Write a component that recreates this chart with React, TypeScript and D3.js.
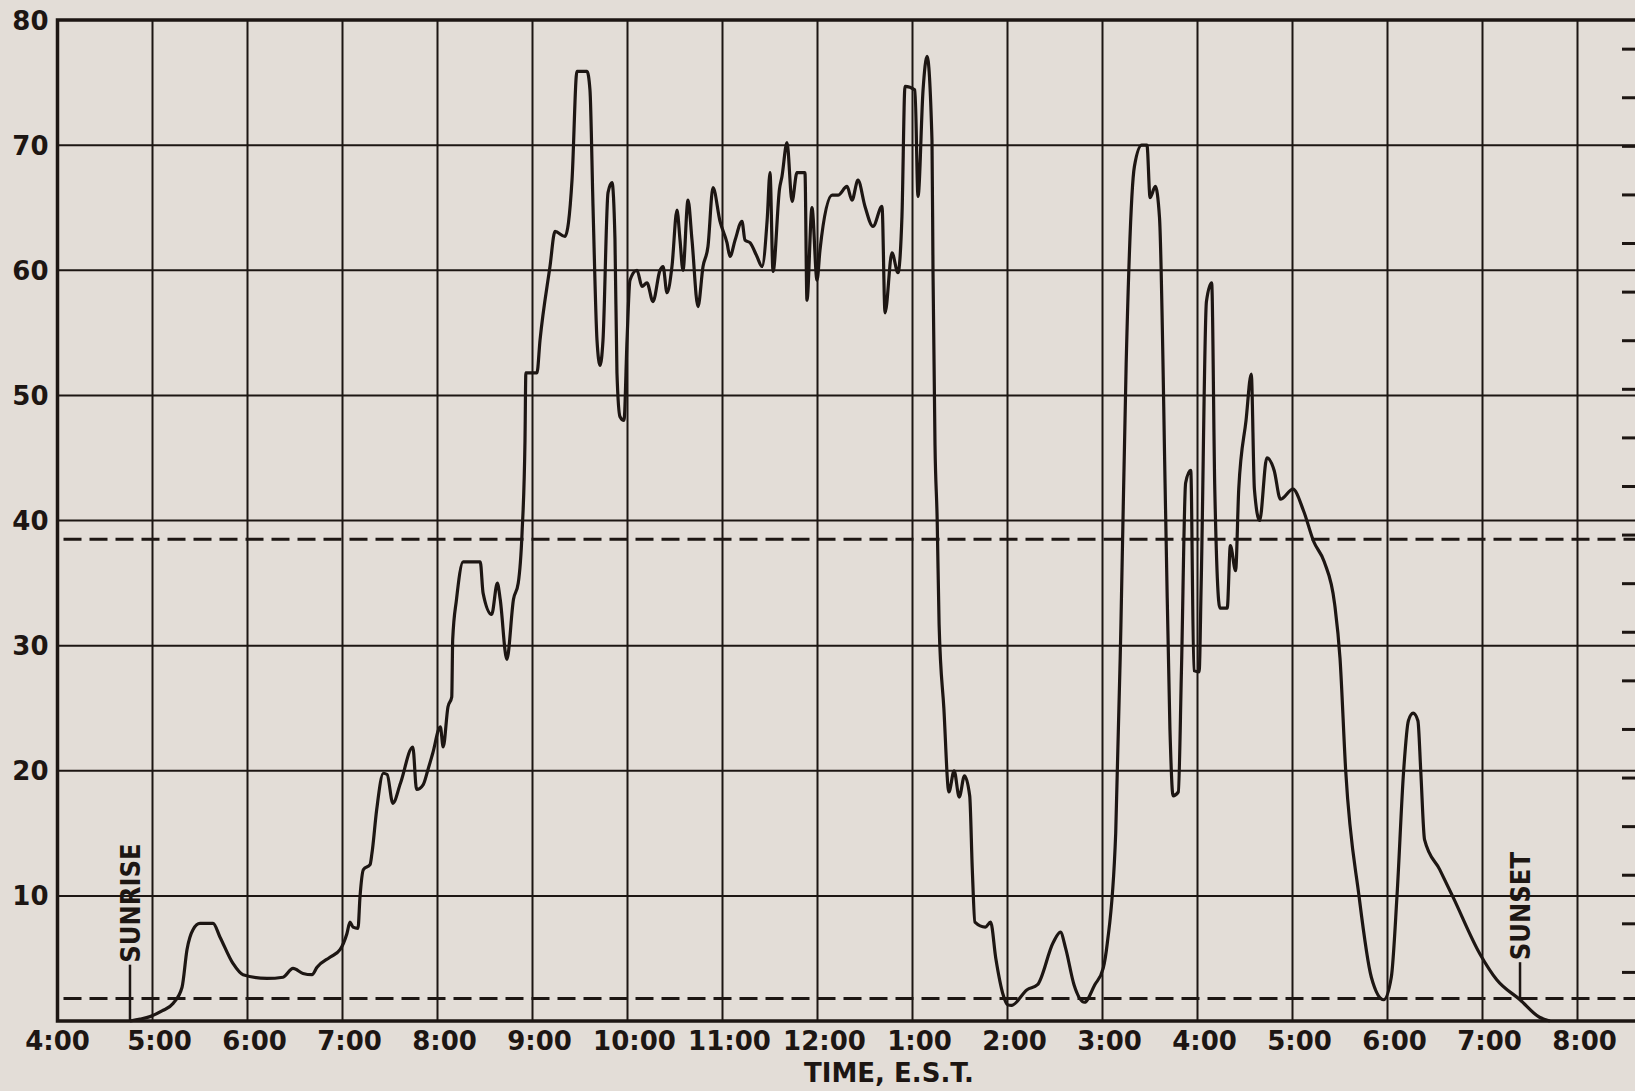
import React, { useRef, useEffect } from 'react';
import * as d3 from 'd3';

// hour of day (4 = 4:00 a.m., 20 = 8:00 p.m.), recorder reading
const trace: [number, number][] = [
    [4.763, 0], [4.87, 0.15], [4.974, 0.35], [5.1, 0.8], [5.216, 1.4], [5.311, 2.7], [5.363, 5.7],
    [5.426, 7.3], [5.5, 7.8], [5.637, 7.8], [5.711, 6.7], [5.847, 4.6], [5.953, 3.7], [6.205, 3.4],
    [6.374, 3.5], [6.479, 4.2], [6.584, 3.8], [6.679, 3.7], [6.732, 4.3], [6.868, 5.1], [6.974, 5.7],
    [7.047, 7.0], [7.079, 7.9], [7.111, 7.5], [7.163, 7.4], [7.184, 9.9], [7.22, 12.1], [7.29, 12.5],
    [7.31, 13.4], [7.36, 16.9], [7.43, 19.8], [7.47, 19.7], [7.53, 17.4], [7.61, 19.0], [7.74, 21.9],
    [7.78, 18.5], [7.85, 18.9], [7.9, 20.1], [7.95, 21.4], [8.03, 23.5], [8.06, 21.9], [8.11, 25.1],
    [8.15, 25.9], [8.16, 30.5], [8.2, 33.7], [8.27, 36.7], [8.45, 36.7], [8.48, 34.2], [8.57, 32.5],
    [8.63, 35.0], [8.66, 33.7], [8.73, 28.9], [8.8, 33.7], [8.85, 35.0], [8.89, 39.0], [8.921, 46.4],
    [8.93, 51.8], [9.047, 51.8], [9.079, 54.4], [9.184, 60.3], [9.237, 63.1], [9.342, 62.7],
    [9.416, 67.2], [9.468, 75.9], [9.574, 75.9], [9.605, 74.4], [9.637, 65.1], [9.679, 54.4],
    [9.711, 52.4], [9.742, 54.4], [9.795, 66.2], [9.837, 67.0], [9.868, 62.5], [9.889, 51.8],
    [9.921, 48.3], [9.963, 48.0], [9.995, 54.4], [10.026, 59.2], [10.1, 60.0], [10.153, 58.7],
    [10.205, 59.0], [10.268, 57.5], [10.342, 60.0], [10.374, 60.3], [10.416, 58.2], [10.468, 60.3],
    [10.521, 64.8], [10.553, 62.4], [10.584, 60.0], [10.637, 65.6], [10.679, 62.4], [10.742, 57.1],
    [10.795, 60.3], [10.847, 61.9], [10.9, 66.6], [10.974, 63.9], [11.047, 62.2], [11.079, 61.1],
    [11.132, 62.4], [11.205, 63.9], [11.237, 62.4], [11.289, 62.2], [11.363, 61.1], [11.416, 60.3],
    [11.47, 64.0], [11.5, 67.8], [11.532, 59.9], [11.6, 66.5], [11.626, 67.5], [11.679, 70.2],
    [11.732, 65.5], [11.784, 67.8], [11.868, 67.8], [11.889, 57.6], [11.942, 65.0], [11.995, 59.2],
    [12.026, 61.6], [12.153, 66.0], [12.216, 66.0], [12.311, 66.7], [12.363, 65.6], [12.426, 67.2],
    [12.5, 65.1], [12.584, 63.5], [12.679, 65.1], [12.711, 56.6], [12.784, 61.4], [12.847, 59.8],
    [12.889, 64.3], [12.921, 74.7], [13.026, 74.4], [13.058, 65.9], [13.111, 74.4], [13.153, 77.1],
    [13.205, 70.4], [13.216, 59.8], [13.237, 46.0], [13.26, 40.0], [13.28, 31.7], [13.33, 25.0],
    [13.383, 18.3], [13.438, 20.0], [13.492, 17.9], [13.547, 19.6], [13.602, 18.0], [13.63, 12.0],
    [13.657, 7.9], [13.767, 7.5], [13.822, 7.9], [13.877, 5.0], [13.954, 2.1], [14.0, 1.3],
    [14.042, 1.25], [14.206, 2.5], [14.316, 2.9], [14.48, 6.25], [14.557, 7.1], [14.612, 5.8],
    [14.7, 2.9], [14.81, 1.5], [14.919, 2.9], [15.007, 4.2], [15.051, 6.25], [15.139, 15.0],
    [15.194, 31.7], [15.249, 52.5], [15.336, 68.3], [15.413, 70.0], [15.468, 70.0], [15.501, 65.8],
    [15.556, 66.7], [15.6, 64.2], [15.666, 40.0], [15.71, 23.3], [15.743, 18.0], [15.798, 18.3],
    [15.831, 28.0], [15.875, 43.0], [15.929, 44.0], [15.962, 28.0], [16.017, 27.9], [16.039, 35.0],
    [16.094, 57.5], [16.149, 59.0], [16.182, 42.5], [16.236, 33.0], [16.313, 33.0], [16.346, 38.0],
    [16.401, 36.0], [16.434, 42.5], [16.511, 48.0], [16.566, 51.7], [16.599, 42.5], [16.654, 40.0],
    [16.73, 45.0], [16.807, 44.0], [16.873, 41.7], [17.005, 42.5], [17.115, 40.8], [17.224, 38.3],
    [17.334, 36.7], [17.444, 33.3], [17.5, 29.0], [17.56, 20.0], [17.7, 10.0], [17.83, 3.5],
    [17.96, 1.7], [18.04, 3.5], [18.1, 10.0], [18.17, 20.0], [18.22, 24.0], [18.27, 24.6],
    [18.32, 24.0], [18.35, 20.0], [18.39, 14.5], [18.55, 12.1], [18.69, 9.9], [18.97, 5.4],
    [19.15, 3.3], [19.395, 1.7], [19.6, 0.3], [19.71, 0]
];

const hourTicks = [4, 5, 6, 7, 8, 9, 10, 11, 12, 13, 14, 15, 16, 17, 18, 19, 20];
const hourLabels = ["4:00", "5:00", "6:00", "7:00", "8:00", "9:00", "10:00", "11:00", "12:00",
    "1:00", "2:00", "3:00", "4:00", "5:00", "6:00", "7:00", "8:00"];
const valueTicks = [10, 20, 30, 40, 50, 60, 70, 80];
const rightTicks = [1, 2, 3, 4, 5, 6, 7, 8, 9, 10, 11, 12, 13, 14, 15, 16, 17, 18, 19, 20];
const dashedLevels = [38.5, 1.8];
const sunMarks = [
    { label: "SUNRISE", hour: 4.763, from: 0, top: 4.5 },
    { label: "SUNSET", hour: 19.395, from: 1.7, top: 4.7 }
];

const App = () => {
    const chartRef = useRef<HTMLDivElement>(null);

    useEffect(() => {
        const width = 1635;
        const height = 1091;
        const ink = "#1d1613";
        const paper = "#e3ddd7";
        const font = "'DejaVu Sans', Verdana, sans-serif";

        const x = d3.scaleLinear([4, 20], [57.5, 1577.5]);
        const y = d3.scaleLinear([0, 80], [1021, 20]);
        const yRight = d3.scaleLinear([0, 20.6], [1021, 20]);

        const svg = d3.create("svg")
            .attr("viewBox", [0, 0, width, height])
            .attr("width", width)
            .attr("height", height)
            .style("position", "absolute")
            .style("left", "0px")
            .style("top", "0px")
            .style("font-family", font);

        svg.append("rect").attr("width", width).attr("height", height).attr("fill", paper);

        // grid
        svg.append("g")
            .selectAll("line")
            .data(hourTicks.slice(1))
            .join("line")
            .attr("x1", d => x(d)).attr("x2", d => x(d))
            .attr("y1", y(0)).attr("y2", y(80))
            .attr("stroke", ink).attr("stroke-width", 2);

        svg.append("g")
            .selectAll("line")
            .data(valueTicks.slice(0, -1))
            .join("line")
            .attr("x1", x(4)).attr("x2", width)
            .attr("y1", d => y(d)).attr("y2", d => y(d))
            .attr("stroke", ink).attr("stroke-width", 2);

        // short ticks of the second scale at the cut right edge
        svg.append("g")
            .selectAll("line")
            .data(rightTicks)
            .join("line")
            .attr("x1", width - 13).attr("x2", width)
            .attr("y1", d => yRight(d)).attr("y2", d => yRight(d))
            .attr("stroke", ink).attr("stroke-width", 3);

        svg.append("g")
            .selectAll("line")
            .data(dashedLevels)
            .join("line")
            .attr("x1", x(4) + 6).attr("x2", width)
            .attr("y1", d => y(d)).attr("y2", d => y(d))
            .attr("stroke", ink).attr("stroke-width", 3)
            .attr("stroke-dasharray", "18,8");

        // sunrise / sunset
        sunMarks.forEach(m => {
            svg.append("line")
                .attr("x1", x(m.hour)).attr("x2", x(m.hour))
                .attr("y1", y(m.from)).attr("y2", y(m.top))
                .attr("stroke", ink).attr("stroke-width", 2.5);
            const g = svg.append("g")
                .attr("transform", `translate(${x(m.hour) + 10},${y(m.top) - 2}) rotate(-90)`);
            const bg = g.append("rect").attr("fill", paper);
            const t = g.append("text")
                .attr("font-family", "'DejaVu Sans Condensed', 'DejaVu Sans', sans-serif")
                .attr("font-weight", "bold")
                .attr("font-size", 27)
                .attr("fill", ink)
                .text(m.label);
            const b = (t.node() as SVGTextElement).getBBox();
            bg.attr("x", b.x - 2).attr("y", b.y + 3).attr("width", b.width + 4).attr("height", b.height - 4);
        });

        const line = d3.line<[number, number]>()
            .x(d => x(d[0]))
            .y(d => y(d[1]))
            .curve(d3.curveMonotoneX);

        svg.append("path")
            .attr("fill", "none")
            .attr("stroke", ink)
            .attr("stroke-width", 3.2)
            .attr("stroke-linejoin", "round")
            .attr("d", line(trace));

        // frame
        svg.append("path")
            .attr("fill", "none")
            .attr("stroke", ink)
            .attr("stroke-width", 3.5)
            .attr("d", `M${width},${y(80)}H${x(4)}V${y(0)}H${width}`);

        svg.append("g")
            .selectAll("text")
            .data(valueTicks)
            .join("text")
            .attr("x", x(4) - 9)
            .attr("y", d => y(d) + 9.5)
            .attr("text-anchor", "end")
            .attr("font-size", 26)
            .attr("font-weight", "bold")
            .attr("fill", ink)
            .text(d => d);

        svg.append("g")
            .selectAll("text")
            .data(hourTicks)
            .join("text")
            .attr("x", (d, i) => x(d) + (i === 0 ? 0 : 7))
            .attr("y", y(0) + 29)
            .attr("text-anchor", "middle")
            .attr("font-size", 26)
            .attr("font-weight", "bold")
            .attr("fill", ink)
            .text((d, i) => hourLabels[i]);

        svg.append("text")
            .attr("x", 889)
            .attr("y", 1082)
            .attr("text-anchor", "middle")
            .attr("font-size", 26)
            .attr("font-weight", "bold")
            .attr("fill", ink)
            .text("TIME, E.S.T.");

        chartRef.current!.appendChild(svg.node()!);

        return () => {
            if (chartRef.current) chartRef.current.innerHTML = '';
        };
    }, []);

    return <div ref={chartRef}></div>;
};

export default App;
